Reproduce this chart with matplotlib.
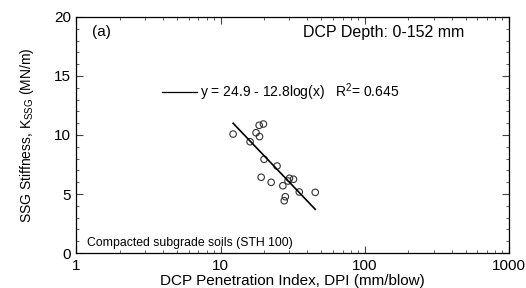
import numpy as np
import matplotlib.pyplot as plt
from matplotlib.ticker import MultipleLocator, LogLocator, NullFormatter, FixedLocator, FixedFormatter

plt.rcParams['font.family'] = ['Liberation Sans', 'DejaVu Sans']

# data
dpi_vals = [12.2, 18.5, 19.8, 17.6, 18.6, 16.0, 20.0, 24.6, 19.1, 22.4,
            27.0, 30.0, 32.0, 29.3, 35.1, 45.3, 28.1, 27.6]
ssg_vals = [10.08, 10.82, 10.93, 10.19, 9.86, 9.43, 7.94, 7.37, 6.42, 5.99,
            5.70, 6.33, 6.25, 6.10, 5.17, 5.14, 4.77, 4.43]
fit_a, fit_b = 24.9, 12.8
fit_range = [12.2, 45.3]
x_ticks = [1, 10, 100, 1000]
x_ticklabels = ['1', '10', '100', '1000']

fig = plt.figure(figsize=(5.26, 2.88), dpi=100)
ax = fig.add_axes([0.1454, 0.1215, 0.8223, 0.8195])

ax.scatter(dpi_vals, ssg_vals, s=22, facecolors='none', edgecolors='#333333', linewidths=0.8, zorder=3)
xf = np.logspace(np.log10(fit_range[0]), np.log10(fit_range[1]), 50)
ax.plot(xf, fit_a - fit_b * np.log10(xf), color='black', lw=1.2, zorder=4)

ax.set_xscale('log')
ax.set_xlim(1, 1000)
ax.set_ylim(0, 20)
ax.xaxis.set_major_locator(FixedLocator(x_ticks))
ax.xaxis.set_major_formatter(FixedFormatter(x_ticklabels))
ax.xaxis.set_minor_locator(LogLocator(base=10, subs=np.arange(2, 10)))
ax.xaxis.set_minor_formatter(NullFormatter())
ax.yaxis.set_major_locator(MultipleLocator(5))
ax.yaxis.set_minor_locator(MultipleLocator(1))
ax.tick_params(which='both', direction='in', top=True, right=True, labelsize=11, color='#444444')
ax.tick_params(which='major', length=5, pad=4)
ax.tick_params(which='minor', length=2.5)
for s in ax.spines.values():
    s.set_linewidth(0.9)

ax.set_xlabel('DCP Penetration Index, DPI (mm/blow)', fontsize=11, labelpad=1)
ax.set_ylabel('SSG Stiffness, K$_{\\mathregular{SSG}}$ (MN/m)', fontsize=10, labelpad=13)

ax.text(0.036, 0.936, '(a)', transform=ax.transAxes, fontsize=11, va='center')
ax.text(0.896, 0.936, 'DCP Depth: 0-152 mm', transform=ax.transAxes, fontsize=11.5, va='center', ha='right')
ax.text(0.024, 0.042, 'Compacted subgrade soils (STH 100)', transform=ax.transAxes, fontsize=8.8, va='center')

# legend-like fit label
ax.plot([0.197, 0.278], [0.681, 0.681], transform=ax.transAxes, color='black', lw=0.9)
ax.text(0.2855, 0.681, 'y = 24.9 - 12.8log(x)   R$^{\\mathregular{2}}$= 0.645', transform=ax.transAxes,
        fontsize=10, va='center')

fig.savefig('out.png', dpi=100)
